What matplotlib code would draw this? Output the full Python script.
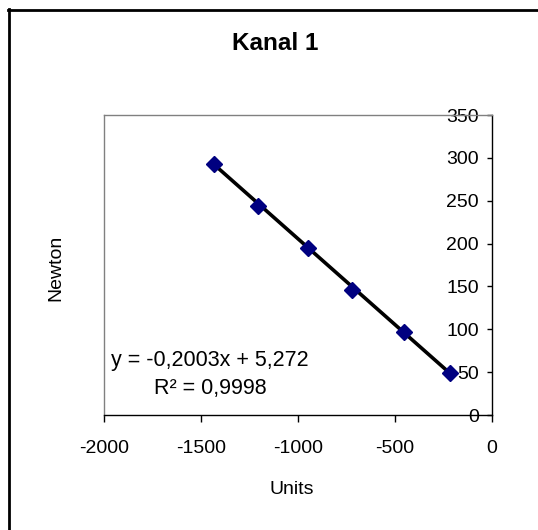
import matplotlib
matplotlib.use("Agg")
import matplotlib.pyplot as plt
from matplotlib.lines import Line2D
import numpy as np

plt.rcParams['font.family'] = ['Liberation Sans', 'DejaVu Sans']

# Calibration data for channel 1
units = [-1431, -1205, -947, -720, -452, -216]
newton = [293.0, 244.0, 195.0, 146.0, 97.0, 48.6]

# Linear trendline
slope = -0.2003
intercept = 5.272
r_squared = 0.9998

x_ticks = [-2000, -1500, -1000, -500, 0]
y_ticks = [0, 50, 100, 150, 200, 250, 300, 350]

W, H = 538, 530
fig = plt.figure(figsize=(W / 100, H / 100), dpi=100)

# outer chart frame (left and top edges visible)
fig.add_artist(Line2D([8.5 / W, 8.5 / W], [1 - 9 / H, 0], color='black', lw=2.0,
                      transform=fig.transFigure))
fig.add_artist(Line2D([8 / W, 1], [1 - 10 / H, 1 - 10 / H], color='black', lw=2.0,
                      transform=fig.transFigure))

left, right, top, bottom = 104, 492, 115, 415
ax = fig.add_axes([left / W, 1 - bottom / H, (right - left) / W, (bottom - top) / H])
ax.set_xlim(-2000, 0)
ax.set_ylim(0, 350)

# value axis sits at x = 0, plot-area border in grey
ax.spines['left'].set_position(('data', 0))
ax.spines['left'].set_color('black')
ax.spines['left'].set_linewidth(1.0)
ax.spines['right'].set_position(('axes', 0))
ax.spines['right'].set_color('#808080')
ax.spines['right'].set_linewidth(1.0)
ax.spines['top'].set_color('#808080')
ax.spines['top'].set_linewidth(1.0)
ax.spines['bottom'].set_color('black')
ax.spines['bottom'].set_linewidth(1.0)

ax.set_xticks(x_ticks)
ax.set_yticks(y_ticks)
ax.set_xticklabels([str(v) for v in x_ticks])
ax.set_yticklabels([str(v) for v in y_ticks])
ax.tick_params(axis='y', which='both', left=True, right=False, direction='out',
               length=3.6, width=1.0, pad=6, labelsize=14, colors='black')
ax.tick_params(axis='x', which='both', bottom=True, top=False, direction='out',
               length=4.8, width=1.0, pad=13, labelsize=14, colors='black')

xs = np.array([min(units), max(units)])
ax.plot(xs, slope * xs + intercept, color='black', lw=2.6, zorder=3, clip_on=False)
ax.plot(units, newton, linestyle='none', marker='D', markersize=8,
        color='#000080', markeredgecolor='#000080', zorder=4, clip_on=False)

def fmt(v, nd):
    return f"{v:.{nd}f}".replace('.', ',')

ax.text(-1454, 64, f"y = {fmt(slope, 4)}x + {fmt(intercept, 3)}", ha='center',
        va='center', fontsize=15.5)
ax.text(-1454, 30.5, f"R\u00b2 = {fmt(r_squared, 4)}", ha='center', va='center',
        fontsize=15.5)

fig.text(275 / W, 1 - 44 / H, "Kanal 1", ha='center', va='center', fontsize=17.5,
         fontweight='bold')
fig.text(292 / W, 1 - 489 / H, "Units", ha='center', va='center', fontsize=14)
fig.text(56 / W, 1 - 268 / H, "Newton", ha='center', va='center', fontsize=14,
         rotation=90)

fig.savefig("out.png", dpi=100)
